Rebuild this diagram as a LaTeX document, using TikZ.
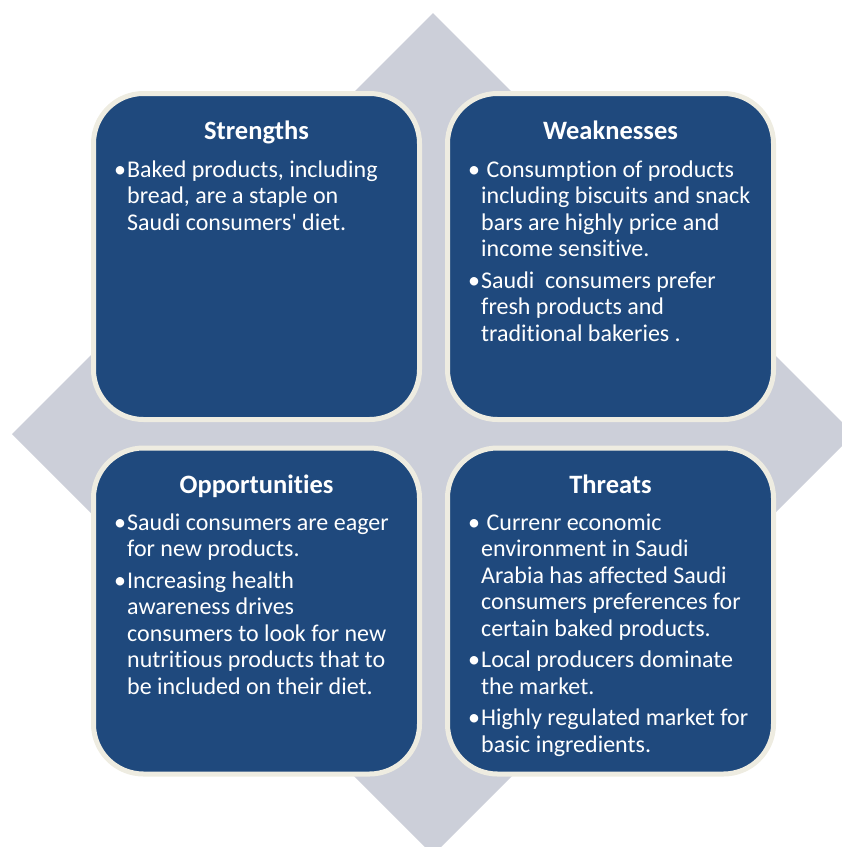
\documentclass[tikz,border=0pt]{standalone}
\usepackage{fontspec}
\setmainfont{Carlito}[Ligatures={NoCommon}]
\definecolor{boxblue}{RGB}{31,73,125}
\definecolor{boxrim}{RGB}{238,236,225}
\definecolor{diam}{RGB}{204,207,217}
\tikzset{
  swotbox/.style={draw=boxrim, line width=5pt, fill=boxblue, rounded corners=50pt,
    minimum width=326pt, minimum height=326pt, inner sep=0pt},
  swottitle/.style={text=white, anchor=base, inner sep=0pt,
    font=\fontsize{26.5}{28}\selectfont\bfseries},
  swotbody/.style={text=white, anchor=base west, inner sep=0pt,
    font=\fontsize{24}{26.5}\selectfont}
}
\newcommand{\bul}{\leavevmode\llap{\textbullet\hspace{1pt}}}
\newcommand{\straightapos}{\XeTeXglyph\XeTeXcharglyph"27\relax}
\begin{document}
\begin{tikzpicture}[x=1pt,y=-1pt]
\useasboundingbox (0,0) rectangle (842,847);
\begin{scope}
\clip (0,0) rectangle (842,847);
\fill[diam] (433,13) -- (854,434) -- (433,855) -- (12,434) -- cycle;
\end{scope}
\node[swotbox] (S) at (256.5,256.5) {};
\node[swotbox] (W) at (610.5,256.5) {};
\node[swotbox] (O) at (256.5,611) {};
\node[swotbox] (T) at (610.5,611) {};

\node[swottitle] (St) at (256.5,139) {Strengths};
\node[swottitle] (Wt) at (610.5,139) {Weaknesses};
\node[swottitle] (Ot) at (256.5,493) {Opportunities};
\node[swottitle] (Tt) at (610.5,493) {Threats};

\node[swotbody] (Sb) at (127,177) {\parbox[t]{300pt}{\raggedright
\bul Baked products, including\\
bread, are a staple on\\
Saudi consumers\straightapos{} diet.}};

\node[swotbody] (Wb) at (481,177) {\parbox[t]{300pt}{\raggedright
\bul\ Consumption of products\\
including biscuits and snack\\
bars are highly price and\\
income sensitive.\\[5pt]
\bul Saudi\ \ consumers prefer\\
fresh products and\\
traditional bakeries .}};

\node[swotbody] (Ob) at (127,530) {\parbox[t]{300pt}{\raggedright
\bul Saudi consumers are eager\\
for new products.\\[5pt]
\bul Increasing health\\
awareness drives\\
consumers to look for new\\
nutritious products that to\\
be included on their diet.}};

\node[swotbody] (Tb) at (481,530) {\parbox[t]{300pt}{\raggedright
\bul\ Currenr economic\\
environment in Saudi\\
Arabia has affected Saudi\\
consumers preferences for\\
certain baked products.\\[5pt]
\bul Local producers dominate\\
the market.\\[5pt]
\bul Highly regulated market for\\
basic ingredients.}};
\end{tikzpicture}
\end{document}
